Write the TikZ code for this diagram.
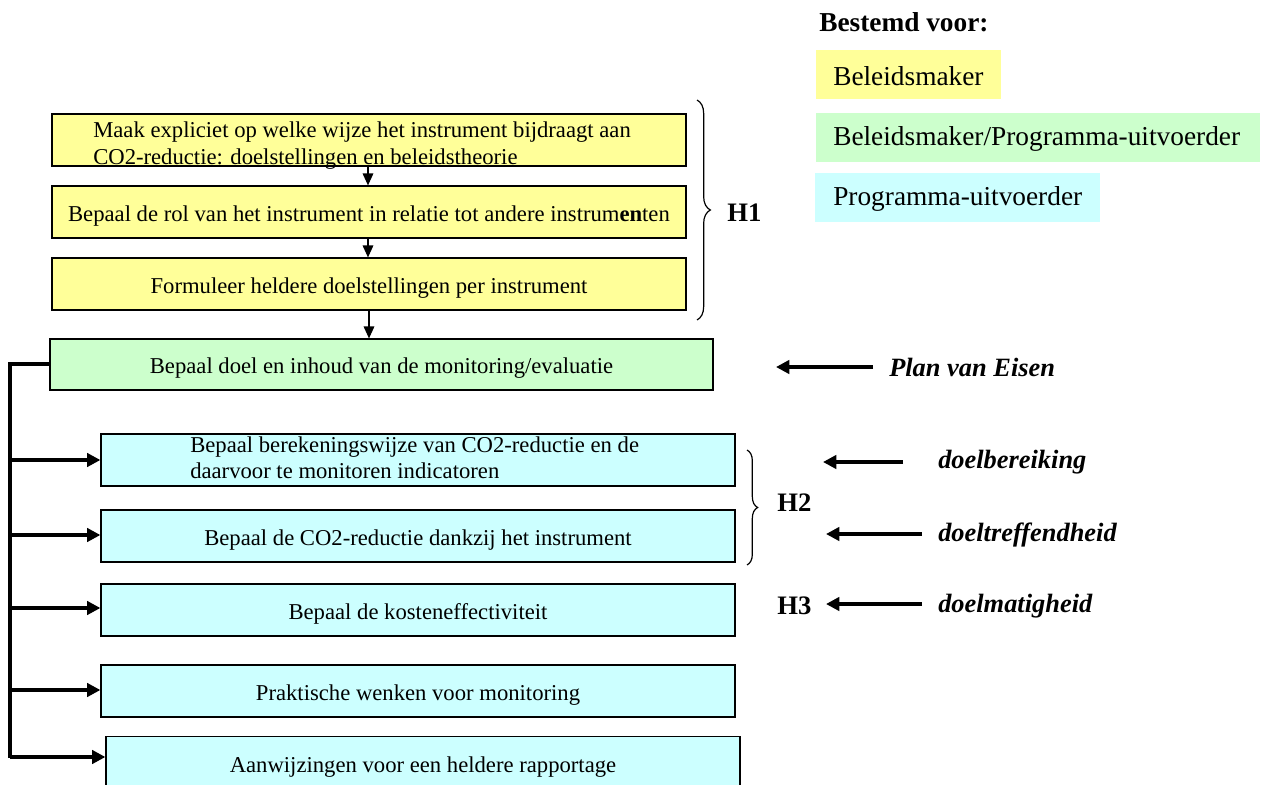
\documentclass[tikz,border=0pt]{standalone}
\usepackage{fontspec}
\setmainfont{Liberation Serif}
\usetikzlibrary{arrows.meta,decorations.pathreplacing,calc}
\definecolor{cyel}{HTML}{FFFF99}
\definecolor{cgrn}{HTML}{CCFFCC}
\definecolor{ccyn}{HTML}{CCFFFF}
\begin{document}
\begin{tikzpicture}[x=0.75pt,y=-0.75pt,
  box/.style={draw=black, line width=0.9pt, minimum width=475.5pt, minimum height=39pt, inner sep=0pt, text height=17pt, text depth=3.2pt, font=\fontsize{17}{20}\selectfont},
  ybox/.style={box, fill=cyel},
  gbox/.style={box, fill=cgrn, minimum width=497.25pt, minimum height=38.25pt},
  cbox/.style={box, fill=ccyn},
  thinarrow/.style={draw, line width=0.9pt, -{Triangle[length=9pt,width=8pt]}},
  boldarrow/.style={draw, line width=2.8pt, -{Triangle[length=10pt,width=10pt]}},
  legend/.style={inner sep=0pt, anchor=west, font=\fontsize{20.5}{24}\selectfont},
  lfill/.style={inner sep=0pt},
  lab/.style={anchor=west, inner sep=0pt, font=\fontsize{19.8}{24}\selectfont\bfseries\itshape},
  hlab/.style={anchor=west, inner sep=0pt, font=\fontsize{20}{24}\selectfont\bfseries},
  bracedec/.style={decorate, decoration={brace, amplitude=10pt}, line width=0.9pt}
]
\useasboundingbox (0,0) rectangle (1267,785);

% legend
\node[anchor=west, inner sep=0pt, font=\fontsize{20.5}{24}\selectfont\bfseries] (bv) at (819,22) {Bestemd voor:};
\node[lfill, fill=cyel, minimum width=138.75pt, minimum height=36.75pt] (ly) at (908.5,74.5) {};
\node[legend] (lyt) at (833,76) {Beleidsmaker};
\node[lfill, fill=cgrn, minimum width=333pt, minimum height=36.75pt] (lg) at (1038,137.5) {};
\node[legend] (lgt) at (833,139) {Beleidsmaker/Programma-uitvoerder};
\node[lfill, fill=ccyn, minimum width=213.75pt, minimum height=36.75pt] (lc) at (957.5,197.5) {};
\node[legend] (lct) at (833,199) {Programma-uitvoerder};

% yellow boxes
\node[ybox] (y1) at (369,140) {};
\node[anchor=north west, inner sep=0pt, align=left, font=\fontsize{17}{19.8}\selectfont] (y1t) at (93,122) {Maak expliciet op welke wijze het instrument bijdraagt aan\\CO2-reductie: doelstellingen en beleidstheorie};
\node[ybox] (y2) at (369,212) {Bepaal de rol van het instrument in relatie tot andere instrum{\bfseries en}ten};
\node[ybox] (y3) at (369,284) {Formuleer heldere doelstellingen per instrument};

% green box
\node[gbox] (g) at (381.5,364.5) {Bepaal doel en inhoud van de monitoring/evaluatie};

% cyan boxes
\node[cbox] (c1) at (418,460) {};
\node[anchor=north west, inner sep=0pt, align=left, font=\fontsize{17}{20}\selectfont] (c1t) at (190,436) {Bepaal berekeningswijze van CO2-reductie en de\\daarvoor te monitoren indicatoren};
\node[cbox] (c2) at (418,536) {Bepaal de CO2-reductie dankzij het instrument};
\node[cbox] (c3) at (418,610) {Bepaal de kosteneffectiviteit};
\node[cbox] (c4) at (418,691) {Praktische wenken voor monitoring};
\node[cbox, minimum height=40pt] (c5) at (423,763.5) {Aanwijzingen voor een heldere rapportage};

% thin arrows
\draw[thinarrow] (368,166) -- (y2.north -| 368,0);
\draw[thinarrow] (368,238) -- (y3.north -| 368,0);
\draw[thinarrow] (369,309) -- (g.north -| 369,0);

% left connector
\coordinate (lt) at (10,364);
\coordinate (lb) at (10,757);
\draw[line width=2.8pt] (g.west |- 0,364) -- (lt) -- ([yshift=-1pt]lb);
\draw[boldarrow] (10,460) -- (c1.west);
\draw[boldarrow] (10,535) -- (c2.west |- 0,535);
\draw[boldarrow] (10,608) -- (c3.west |- 0,608);
\draw[boldarrow] (10,690) -- (c4.west |- 0,690);
\draw[boldarrow] (lb) -- (c5.west |- lb);

% braces
\coordinate (b1t) at (697,100);
\coordinate (b1b) at (697,320);
\draw[bracedec] (b1t) -- (b1b);
\node[hlab] (h1) at (727,213) {H1};
\coordinate (b2t) at (747,450);
\coordinate (b2b) at (747,565);
\draw[bracedec, decoration={amplitude=8pt}] (b2t) -- (b2b);
\node[hlab] (h2) at (777,503) {H2};
\node[hlab] (h3) at (777,606) {H3};

% right labels
\node[lab] (pe) at (889,367) {Plan van Eisen};
\coordinate (pea) at (776,367);
\draw[boldarrow] (873,367) -- (pea);
\node[lab] (db) at (938,462) {doelbereiking};
\coordinate (dba) at (823,462);
\draw[boldarrow] (903,462) -- (dba);
\node[lab] (dt) at (938,535) {doeltreffendheid};
\coordinate (dta) at (826,534);
\draw[boldarrow] (922,534) -- (dta);
\node[lab] (dm) at (938,606) {doelmatigheid};
\coordinate (dma) at (826,604);
\draw[boldarrow] (922,604) -- (dma);
\end{tikzpicture}
\end{document}
